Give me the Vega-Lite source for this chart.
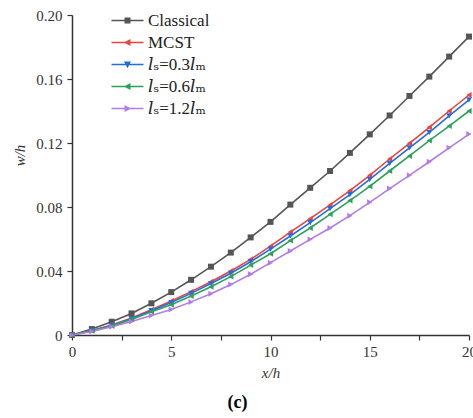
{
  "$schema": "https://vega.github.io/schema/vega-lite/v6.json",
  "width": 397,
  "height": 320,
  "autosize": "none",
  "padding": {"left": 72, "top": 15, "right": 4, "bottom": 83},
  "background": "white",
  "title": {"text": "(c)", "orient": "bottom", "anchor": "middle", "frame": "group", "dx": -33, "offset": 14, "font": "'Liberation Serif', 'DejaVu Serif', serif", "fontSize": 18, "fontWeight": "bold", "color": "#000000"},
  "config": {
    "view": {"stroke": null},
    "axis": {"grid": false, "domainColor": "#333333", "domainWidth": 1.5, "tickColor": "#333333", "tickWidth": 1.2, "tickSize": 5, "labelFont": "'Liberation Serif', 'DejaVu Serif', serif", "labelFontSize": 15, "labelColor": "#333333", "titleFont": "'Liberation Serif', 'DejaVu Serif', serif", "titleFontSize": 15, "titleFontStyle": "italic", "titleFontWeight": "normal", "titleColor": "#333333"}
  },
  "data": {"values": [
    {"x":0,"s":"Classical","y":0},{"x":1,"s":"Classical","y":0.0037},{"x":2,"s":"Classical","y":0.0083},{"x":3,"s":"Classical","y":0.0135},{"x":4,"s":"Classical","y":0.0198},{"x":5,"s":"Classical","y":0.0268},{"x":6,"s":"Classical","y":0.0345},{"x":7,"s":"Classical","y":0.0427},{"x":8,"s":"Classical","y":0.0515},{"x":9,"s":"Classical","y":0.061},{"x":10,"s":"Classical","y":0.0707},{"x":11,"s":"Classical","y":0.0815},{"x":12,"s":"Classical","y":0.092},{"x":13,"s":"Classical","y":0.1025},{"x":14,"s":"Classical","y":0.1138},{"x":15,"s":"Classical","y":0.1254},{"x":16,"s":"Classical","y":0.1372},{"x":17,"s":"Classical","y":0.1494},{"x":18,"s":"Classical","y":0.1615},{"x":19,"s":"Classical","y":0.174},{"x":20,"s":"Classical","y":0.1865},
    {"x":0,"s":"MCST","y":0},{"x":1,"s":"MCST","y":0.0028},{"x":2,"s":"MCST","y":0.0063},{"x":3,"s":"MCST","y":0.0106},{"x":4,"s":"MCST","y":0.0158},{"x":5,"s":"MCST","y":0.0213},{"x":6,"s":"MCST","y":0.0271},{"x":7,"s":"MCST","y":0.0333},{"x":8,"s":"MCST","y":0.04},{"x":9,"s":"MCST","y":0.0473},{"x":10,"s":"MCST","y":0.0555},{"x":11,"s":"MCST","y":0.0643},{"x":12,"s":"MCST","y":0.0727},{"x":13,"s":"MCST","y":0.0813},{"x":14,"s":"MCST","y":0.0902},{"x":15,"s":"MCST","y":0.0998},{"x":16,"s":"MCST","y":0.11},{"x":17,"s":"MCST","y":0.1198},{"x":18,"s":"MCST","y":0.1298},{"x":19,"s":"MCST","y":0.14},{"x":20,"s":"MCST","y":0.15},
    {"x":0,"s":"ls=0.3lm","y":0},{"x":1,"s":"ls=0.3lm","y":0.0027},{"x":2,"s":"ls=0.3lm","y":0.006},{"x":3,"s":"ls=0.3lm","y":0.0102},{"x":4,"s":"ls=0.3lm","y":0.0152},{"x":5,"s":"ls=0.3lm","y":0.0203},{"x":6,"s":"ls=0.3lm","y":0.026},{"x":7,"s":"ls=0.3lm","y":0.0322},{"x":8,"s":"ls=0.3lm","y":0.0386},{"x":9,"s":"ls=0.3lm","y":0.0458},{"x":10,"s":"ls=0.3lm","y":0.0537},{"x":11,"s":"ls=0.3lm","y":0.0619},{"x":12,"s":"ls=0.3lm","y":0.0702},{"x":13,"s":"ls=0.3lm","y":0.079},{"x":14,"s":"ls=0.3lm","y":0.0877},{"x":15,"s":"ls=0.3lm","y":0.0972},{"x":16,"s":"ls=0.3lm","y":0.1073},{"x":17,"s":"ls=0.3lm","y":0.117},{"x":18,"s":"ls=0.3lm","y":0.1267},{"x":19,"s":"ls=0.3lm","y":0.137},{"x":20,"s":"ls=0.3lm","y":0.147},
    {"x":0,"s":"ls=0.6lm","y":0},{"x":1,"s":"ls=0.6lm","y":0.0026},{"x":2,"s":"ls=0.6lm","y":0.0057},{"x":3,"s":"ls=0.6lm","y":0.0097},{"x":4,"s":"ls=0.6lm","y":0.0145},{"x":5,"s":"ls=0.6lm","y":0.0189},{"x":6,"s":"ls=0.6lm","y":0.0244},{"x":7,"s":"ls=0.6lm","y":0.0302},{"x":8,"s":"ls=0.6lm","y":0.0365},{"x":9,"s":"ls=0.6lm","y":0.0437},{"x":10,"s":"ls=0.6lm","y":0.0508},{"x":11,"s":"ls=0.6lm","y":0.059},{"x":12,"s":"ls=0.6lm","y":0.0669},{"x":13,"s":"ls=0.6lm","y":0.0754},{"x":14,"s":"ls=0.6lm","y":0.084},{"x":15,"s":"ls=0.6lm","y":0.0929},{"x":16,"s":"ls=0.6lm","y":0.1025},{"x":17,"s":"ls=0.6lm","y":0.1119},{"x":18,"s":"ls=0.6lm","y":0.1215},{"x":19,"s":"ls=0.6lm","y":0.1306},{"x":20,"s":"ls=0.6lm","y":0.14},
    {"x":0,"s":"ls=1.2lm","y":0},{"x":1,"s":"ls=1.2lm","y":0.0022},{"x":2,"s":"ls=1.2lm","y":0.0052},{"x":3,"s":"ls=1.2lm","y":0.0085},{"x":4,"s":"ls=1.2lm","y":0.0122},{"x":5,"s":"ls=1.2lm","y":0.016},{"x":6,"s":"ls=1.2lm","y":0.0207},{"x":7,"s":"ls=1.2lm","y":0.0258},{"x":8,"s":"ls=1.2lm","y":0.0315},{"x":9,"s":"ls=1.2lm","y":0.038},{"x":10,"s":"ls=1.2lm","y":0.0452},{"x":11,"s":"ls=1.2lm","y":0.0525},{"x":12,"s":"ls=1.2lm","y":0.0598},{"x":13,"s":"ls=1.2lm","y":0.0669},{"x":14,"s":"ls=1.2lm","y":0.0746},{"x":15,"s":"ls=1.2lm","y":0.0829},{"x":16,"s":"ls=1.2lm","y":0.0915},{"x":17,"s":"ls=1.2lm","y":0.0998},{"x":18,"s":"ls=1.2lm","y":0.1083},{"x":19,"s":"ls=1.2lm","y":0.117},{"x":20,"s":"ls=1.2lm","y":0.1256}
  ]},
  "encoding": {
    "x": {"field": "x", "type": "quantitative", "title": "x/h", "scale": {"domain": [0, 20], "nice": false, "zero": false},
      "axis": {"values": [0, 2.5, 5, 7.5, 10, 12.5, 15, 17.5, 20], "labelExpr": "datum.value % 5 === 0 ? format(datum.value, 'd') : ''", "labelPadding": 4, "titlePadding": 6, "labelFlush": false, "labelFont": "Liberation Serif", "labelFontSize": 15}},
    "y": {"field": "y", "type": "quantitative", "title": "w/h", "scale": {"domain": [0, 0.2], "nice": false},
      "axis": {"values": [0, 0.04, 0.08, 0.12, 0.16, 0.2], "labelExpr": "datum.value == 0 ? '0' : format(datum.value, '.2f')", "labelPadding": 5, "titlePadding": 8, "titleY": 140, "labelFont": "Liberation Serif", "labelFontSize": 15}}
  },
  "layer": [
    {
      "mark": {"type": "line", "strokeWidth": 1.6},
      "encoding": {
        "color": {"field": "s", "type": "nominal", "legend": null,
          "scale": {"domain": ["Classical", "MCST", "ls=0.3lm", "ls=0.6lm", "ls=1.2lm"], "range": ["#555555", "#f0413c", "#1f6fe0", "#2fa05c", "#b27be6"]}}
      }
    },
    {
      "mark": {"type": "point", "filled": true, "opacity": 1},
      "encoding": {
        "color": {"field": "s", "type": "nominal", "legend": null,
          "scale": {"domain": ["Classical", "MCST", "ls=0.3lm", "ls=0.6lm", "ls=1.2lm"], "range": ["#555555", "#f0413c", "#1f6fe0", "#2fa05c", "#b27be6"]}},
        "shape": {"field": "s", "type": "nominal", "legend": null,
          "scale": {"domain": ["Classical", "MCST", "ls=0.3lm", "ls=0.6lm", "ls=1.2lm"], "range": ["square", "triangle-left", "triangle-down", "triangle-left", "triangle-right"]}},
        "size": {"value": 36}
      }
    },
    {
      "transform": [{"filter": "datum.x == 0"}],
      "mark": {"type": "point", "filled": true, "opacity": 0},
      "encoding": {
        "color": {"field": "s", "type": "nominal",
          "scale": {"domain": ["Classical", "MCST", "ls=0.3lm", "ls=0.6lm", "ls=1.2lm"], "range": ["#555555", "#f0413c", "#1f6fe0", "#2fa05c", "#b27be6"]},
          "legend": {"title": null, "orient": "none", "legendX": 47, "legendY": -3, "symbolOpacity": 1, "symbolSize": 100, "labelOffset": 12, "rowPadding": 4, "labelFont": "'Liberation Serif', 'DejaVu Serif', serif", "labelFontSize": 17, "labelColor": "#222222",
            "labelExpr": "datum.label == 'ls=0.3lm' ? '𝑙ₛ=0.3𝑙ₘ' : datum.label == 'ls=0.6lm' ? '𝑙ₛ=0.6𝑙ₘ' : datum.label == 'ls=1.2lm' ? '𝑙ₛ=1.2𝑙ₘ' : datum.label"}},
        "shape": {"field": "s", "type": "nominal",
          "scale": {"domain": ["Classical", "MCST", "ls=0.3lm", "ls=0.6lm", "ls=1.2lm"], "range": [
            "M-3.2,-0.15H3.2V0.15H-3.2ZM-0.6,-0.6H0.6V0.6H-0.6Z",
            "M-3.2,-0.15H3.2V0.15H-3.2ZM-0.75,0L0.6,-0.7L0.6,0.7Z",
            "M-3.2,-0.15H3.2V0.15H-3.2ZM-0.7,-0.6H0.7L0,0.75Z",
            "M-3.2,-0.15H3.2V0.15H-3.2ZM-0.75,0L0.6,-0.7L0.6,0.7Z",
            "M-3.2,-0.15H3.2V0.15H-3.2ZM0.75,0L-0.6,0.7L-0.6,-0.7Z"]},
          "legend": {"title": null, "orient": "none", "legendX": 47, "legendY": -3, "symbolOpacity": 1, "symbolSize": 100, "labelOffset": 12, "rowPadding": 4, "labelFont": "'Liberation Serif', 'DejaVu Serif', serif", "labelFontSize": 17, "labelColor": "#222222",
            "labelExpr": "datum.label == 'ls=0.3lm' ? '𝑙ₛ=0.3𝑙ₘ' : datum.label == 'ls=0.6lm' ? '𝑙ₛ=0.6𝑙ₘ' : datum.label == 'ls=1.2lm' ? '𝑙ₛ=1.2𝑙ₘ' : datum.label"}}
      }
    }
  ],
  "resolve": {"scale": {"color": "independent", "shape": "independent"}}
}
